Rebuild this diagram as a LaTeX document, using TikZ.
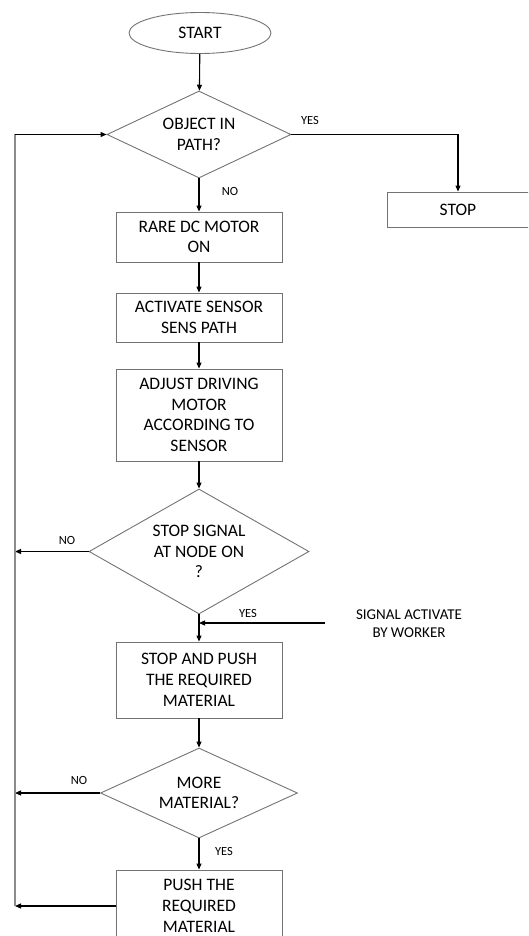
\documentclass[tikz,border=0pt]{standalone}
\usepackage{fontspec}
\setmainfont{Carlito}
\usetikzlibrary{shapes.geometric,arrows.meta}
\tikzset{
	box/.style={draw=black!55, line width=0.9pt, minimum width=166pt, inner sep=0pt, align=center, font=\fontsize{17.5}{20.7}\selectfont},
	decision/.style={diamond, draw=black!55, line width=0.9pt, inner sep=0pt, align=center, font=\fontsize{17.5}{20.7}\selectfont},
	flow/.style={-{Triangle[length=6pt,width=5pt]}, line width=1.1pt},
	yesno/.style={font=\fontsize{12.5}{15}\selectfont},
}
\begin{document}
\begin{tikzpicture}[x=1pt, y=-1pt]
\useasboundingbox (0,0) rectangle (528,936);
\clip (0,0) rectangle (528,936);
\node[ellipse, draw=black!55, line width=0.9pt, minimum width=142pt, minimum height=41pt, inner sep=0pt, font=\fontsize{17.5}{20.7}\selectfont] (start) at (200,33) {START};
\node[decision, aspect=2.1, minimum width=184pt, minimum height=87pt] (obj) at (199,134.5) {OBJECT IN\\PATH?};
\node[box, minimum width=142pt, minimum height=35pt] (stop) at (458,209.5) {STOP};
\node[box, minimum height=50pt] (motor) at (199,237) {RARE DC MOTOR\\ON};
\node[box, minimum height=49pt] (sensor) at (199,317.5) {ACTIVATE SENSOR\\SENS PATH};
\node[box, minimum height=92pt] (adjust) at (199,415) {ADJUST DRIVING\\MOTOR\\ACCORDING TO\\SENSOR};
\node[decision, aspect=1.76, minimum width=220pt, minimum height=125pt] (signal) at (199,551.5) {STOP SIGNAL\\AT NODE ON\\?};
\node[box, minimum height=76pt] (push) at (199,680) {STOP AND PUSH\\THE REQUIRED\\MATERIAL};
\node[decision, aspect=2.19, minimum width=197pt, minimum height=90pt] (more) at (199,793) {MORE\\MATERIAL?};
\node[box, minimum height=72pt] (pushmore) at (199,906) {PUSH THE\\REQUIRED\\MATERIAL};
\node[align=center, font=\fontsize{15}{18}\selectfont] (worker) at (409,624) {SIGNAL ACTIVATE\\BY WORKER};
% yes / no
\node[yesno] (yes1) at (310,120) {YES};
\node[yesno] (no1) at (230,191) {NO};
\node[yesno] (no2) at (67,540) {NO};
\node[yesno] (yes2) at (248,613) {YES};
\node[yesno] (no3) at (79,780) {NO};
\node[yesno] (yes3) at (224,851) {YES};
\coordinate (looptop) at (15,134.5);
\coordinate (loopbot) at (15,906);
\coordinate (sigin) at (325,623);
% main line
\draw[flow] (start) -- (obj);
\draw[flow] (obj.east) -| (stop.north);
\draw[flow] (obj) -- (motor);
\draw[flow] (motor) -- (sensor);
\draw[flow] (sensor) -- (adjust);
\draw[flow] (adjust) -- (signal);
\draw[flow] (signal) -- (push);
\draw[flow] (sigin) -- (signal.south |- sigin);
\draw[flow] (push) -- (more);
\draw[flow] (more) -- (pushmore);
% back to the start
\draw[flow] (signal.west) -- (signal.west -| looptop);
\draw[flow] (more.west) -- (more.west -| looptop);
\draw[flow] (pushmore.west) -- (loopbot);
\draw[black!45, line width=1.2pt] (loopbot) -- (looptop);
\draw[flow] (looptop) -- (obj.west);
\end{tikzpicture}
\end{document}
